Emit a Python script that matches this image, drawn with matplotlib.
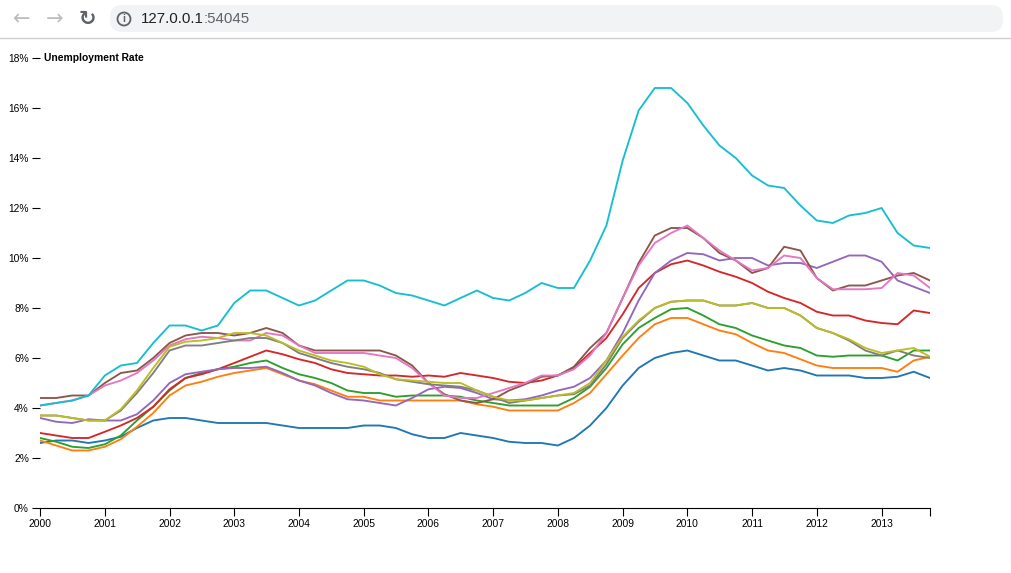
import matplotlib
matplotlib.use("Agg")
import matplotlib.pyplot as plt
import matplotlib.dates as mdates
from matplotlib.patches import FancyBboxPatch, Ellipse
import pandas as pd

# ---------------- data (quarterly samples, % unemployment) ----------------
dates = pd.date_range("2000-01-01", periods=56, freq="QS")

series_names = ["Area 1", "Area 2", "Area 3", "Area 4", "Area 5",
                "Area 6", "Area 7", "Area 8", "Area 9", "Area 10"]

blue = [2.6, 2.7, 2.7, 2.6, 2.7, 2.85, 3.2, 3.5, 3.6, 3.6, 3.5, 3.4, 3.4, 3.4,
        3.4, 3.3, 3.2, 3.2, 3.2, 3.2, 3.3, 3.3, 3.2, 2.95, 2.8, 2.8, 3.0, 2.9,
        2.8, 2.65, 2.6, 2.6, 2.5, 2.8, 3.3, 4.0, 4.9, 5.6, 6.0, 6.2, 6.3, 6.1,
        5.9, 5.9, 5.7, 5.5, 5.6, 5.5, 5.3, 5.3, 5.3, 5.2, 5.2, 5.25, 5.45, 5.2]
orange = [2.7, 2.5, 2.3, 2.3, 2.45, 2.75, 3.25, 3.8, 4.5, 4.9, 5.05, 5.25, 5.4,
          5.5, 5.6, 5.35, 5.1, 4.95, 4.7, 4.45, 4.45, 4.3, 4.3, 4.3, 4.3, 4.3,
          4.3, 4.15, 4.05, 3.9, 3.9, 3.9, 3.9, 4.2, 4.6, 5.35, 6.1, 6.8, 7.35,
          7.6, 7.6, 7.35, 7.1, 6.95, 6.6, 6.3, 6.2, 5.95, 5.7, 5.6, 5.6, 5.6,
          5.6, 5.45, 5.9, 6.05]
green = [2.8, 2.65, 2.45, 2.4, 2.55, 2.9, 3.5, 4.05, 4.7, 5.2, 5.4, 5.55, 5.65,
         5.8, 5.9, 5.6, 5.35, 5.2, 5.0, 4.7, 4.6, 4.6, 4.45, 4.5, 4.5, 4.5,
         4.45, 4.3, 4.2, 4.1, 4.1, 4.1, 4.1, 4.4, 4.85, 5.6, 6.55, 7.2, 7.6,
         7.95, 8.0, 7.7, 7.35, 7.2, 6.9, 6.7, 6.5, 6.4, 6.1, 6.05, 6.1, 6.1,
         6.1, 5.9, 6.3, 6.3]
red = [3.0, 2.9, 2.8, 2.8, 3.05, 3.3, 3.6, 4.05, 4.75, 5.2, 5.35, 5.55, 5.8,
       6.05, 6.3, 6.15, 5.95, 5.8, 5.55, 5.4, 5.35, 5.3, 5.3, 5.25, 5.3, 5.25,
       5.4, 5.3, 5.2, 5.05, 5.0, 5.1, 5.3, 5.6, 6.2, 6.8, 7.75, 8.8, 9.4,
       9.75, 9.9, 9.7, 9.45, 9.25, 9.0, 8.65, 8.4, 8.2, 7.85, 7.7, 7.7, 7.5,
       7.4, 7.35, 7.9, 7.8]
purple = [3.6, 3.45, 3.4, 3.55, 3.5, 3.5, 3.75, 4.3, 5.0, 5.35, 5.45, 5.55,
          5.6, 5.6, 5.65, 5.4, 5.1, 4.9, 4.6, 4.35, 4.3, 4.2, 4.1, 4.4, 4.75,
          4.85, 4.8, 4.6, 4.35, 4.3, 4.35, 4.5, 4.7, 4.85, 5.2, 5.9, 7.0, 8.3,
          9.4, 9.9, 10.2, 10.15, 9.9, 10.0, 10.0, 9.7, 9.8, 9.8, 9.6, 9.85,
          10.1, 10.1, 9.85, 9.1, 8.85, 8.6]
brown = [4.4, 4.4, 4.5, 4.5, 5.0, 5.4, 5.5, 6.0, 6.6, 6.9, 7.0, 7.0, 6.9, 7.0,
         7.2, 7.0, 6.5, 6.3, 6.3, 6.3, 6.3, 6.3, 6.1, 5.7, 5.0, 4.55, 4.3, 4.2,
         4.35, 4.7, 4.95, 5.25, 5.3, 5.65, 6.4, 7.0, 8.4, 9.8, 10.9, 11.2,
         11.2, 10.8, 10.2, 9.9, 9.4, 9.6, 10.45, 10.3, 9.2, 8.7, 8.9, 8.9,
         9.1, 9.3, 9.4, 9.1]
pink = [4.1, 4.2, 4.3, 4.5, 4.9, 5.1, 5.4, 5.9, 6.5, 6.75, 6.85, 6.8, 6.7,
        6.7, 7.0, 6.9, 6.5, 6.2, 6.2, 6.2, 6.2, 6.1, 6.0, 5.6, 5.0, 4.5, 4.4,
        4.4, 4.6, 4.8, 5.0, 5.3, 5.3, 5.55, 6.1, 7.0, 8.4, 9.7, 10.6, 11.0,
        11.3, 10.8, 10.3, 9.9, 9.5, 9.6, 10.1, 10.0, 9.2, 8.75, 8.75, 8.75,
        8.8, 9.4, 9.3, 8.8]
gray = [3.7, 3.7, 3.6, 3.5, 3.5, 3.9, 4.6, 5.4, 6.3, 6.5, 6.5, 6.6, 6.7, 6.8,
        6.8, 6.6, 6.2, 6.0, 5.8, 5.65, 5.55, 5.4, 5.15, 5.05, 4.95, 4.9, 4.85,
        4.7, 4.45, 4.2, 4.3, 4.4, 4.5, 4.55, 4.9, 5.75, 6.8, 7.45, 8.0, 8.25,
        8.3, 8.3, 8.1, 8.1, 8.2, 8.0, 8.0, 7.7, 7.2, 7.0, 6.7, 6.3, 6.1, 6.3,
        6.1, 6.0]
olive = [3.7, 3.7, 3.6, 3.5, 3.5, 3.95, 4.7, 5.6, 6.45, 6.65, 6.7, 6.8, 7.0,
         7.0, 6.9, 6.6, 6.3, 6.1, 5.9, 5.8, 5.65, 5.35, 5.15, 5.1, 5.05, 5.0,
         5.0, 4.7, 4.45, 4.3, 4.3, 4.4, 4.5, 4.6, 5.0, 5.9, 6.85, 7.5, 8.0,
         8.25, 8.3, 8.3, 8.1, 8.1, 8.2, 8.0, 8.0, 7.7, 7.2, 7.0, 6.75, 6.4,
         6.2, 6.3, 6.4, 6.05]
cyan = [4.1, 4.2, 4.3, 4.5, 5.3, 5.7, 5.8, 6.6, 7.3, 7.3, 7.1, 7.3, 8.2, 8.7,
        8.7, 8.4, 8.1, 8.3, 8.7, 9.1, 9.1, 8.9, 8.6, 8.5, 8.3, 8.1, 8.4, 8.7,
        8.4, 8.3, 8.6, 9.0, 8.8, 8.8, 9.9, 11.3, 13.9, 15.9, 16.8, 16.8, 16.2,
        15.3, 14.5, 14.0, 13.3, 12.9, 12.8, 12.1, 11.5, 11.4, 11.7, 11.8, 12.0,
        11.0, 10.5, 10.4]

all_series = [blue, orange, green, red, purple, brown, pink, gray, olive, cyan]
colors = ["#1f77b4", "#ff7f0e", "#2ca02c", "#d62728", "#9467bd",
          "#8c564b", "#e377c2", "#7f7f7f", "#bcbd22", "#17becf"]

y_ticks = [0, 2, 4, 6, 8, 10, 12, 14, 16, 18]
y_ticklabels = [f"{v}%" for v in y_ticks]
y_title = "Unemployment Rate"
url_host = "127.0.0.1"
url_port = ":54045"

# ---------------- figure ----------------
W, H = 1011, 573
fig = plt.figure(figsize=(W / 100, H / 100), dpi=100)
fig.patch.set_facecolor("white")
FONT = ["Liberation Sans", "DejaVu Sans"]

def fx(px):
    return px / W

def fy(py):
    return 1 - py / H

# browser chrome
bar = FancyBboxPatch((fx(110), fy(32)), fx(1003) - fx(110), fy(5) - fy(32),
                     boxstyle="round,pad=0,rounding_size=0.012",
                     transform=fig.transFigure, facecolor="#f1f3f4",
                     edgecolor="none", mutation_aspect=W / H)
fig.patches.append(bar)
fig.add_artist(plt.Line2D([0, 1], [fy(37.5), fy(37.5)], color="#cfcfcf",
                          lw=1.0, transform=fig.transFigure))
fig.text(fx(22), fy(19), "←", fontsize=15, color="#bdbdbd", ha="center",
         va="center", family=["DejaVu Sans"])
fig.text(fx(55), fy(19), "→", fontsize=15, color="#bdbdbd", ha="center",
         va="center", family=["DejaVu Sans"])
fig.text(fx(87), fy(19), "↻", fontsize=15, color="#5f6368", ha="center",
         va="center", family=["DejaVu Sans"], weight="bold")
# info icon (circle with an "i")
fig.patches.append(Ellipse((fx(124), fy(19)), 13 / W, 13 / H,
                           transform=fig.transFigure, facecolor="none",
                           edgecolor="#5f6368", lw=1.3))
fig.text(fx(124), fy(19.5), "i", fontsize=7.5, color="#5f6368", ha="center",
         va="center", family=FONT, weight="bold")
t1 = fig.text(fx(141), fy(19), url_host, fontsize=10.8, color="#202124",
              ha="left", va="center", family=FONT)
fig.canvas.draw()
bb = t1.get_window_extent()
fig.text(bb.x1 / W, fy(19), url_port, fontsize=10.8, color="#5f6368",
         ha="left", va="center", family=FONT)

# chart axes: x 40..930 px, y 58..508 px
ax = fig.add_axes([fx(40), fy(508), fx(930) - fx(40), fy(58) - fy(508)])
for s, c, name in zip(all_series, colors, series_names):
    ax.plot(dates, s, color=c, lw=1.35, label=name, solid_joinstyle="round")

ax.set_xlim(dates[0], dates[-1])
ax.set_ylim(0, 18)
for side in ["top", "right", "left"]:
    ax.spines[side].set_visible(False)
ax.spines["bottom"].set_linewidth(0.8)
ax.spines["bottom"].set_color("black")

ax.xaxis.set_major_locator(mdates.YearLocator())
ax.xaxis.set_major_formatter(mdates.DateFormatter("%Y"))
ax.set_xticks([mdates.date2num(dates[-1])], minor=True)
ax.tick_params(axis="x", which="both", direction="out", length=6, width=0.8,
               color="black", pad=2, labelsize=7.4)
ax.set_yticks(y_ticks)
ax.set_yticklabels(y_ticklabels)
ax.tick_params(axis="y", direction="out", length=6, width=0.8, color="black",
               pad=2, labelsize=7.4)
for lab in ax.get_xticklabels() + ax.get_yticklabels():
    lab.set_family(FONT)

ax.text(fx(44), fy(58), y_title, transform=fig.transFigure, fontsize=7.4,
        weight="bold", ha="left", va="center", family=FONT)

fig.savefig("out.png", dpi=100)
